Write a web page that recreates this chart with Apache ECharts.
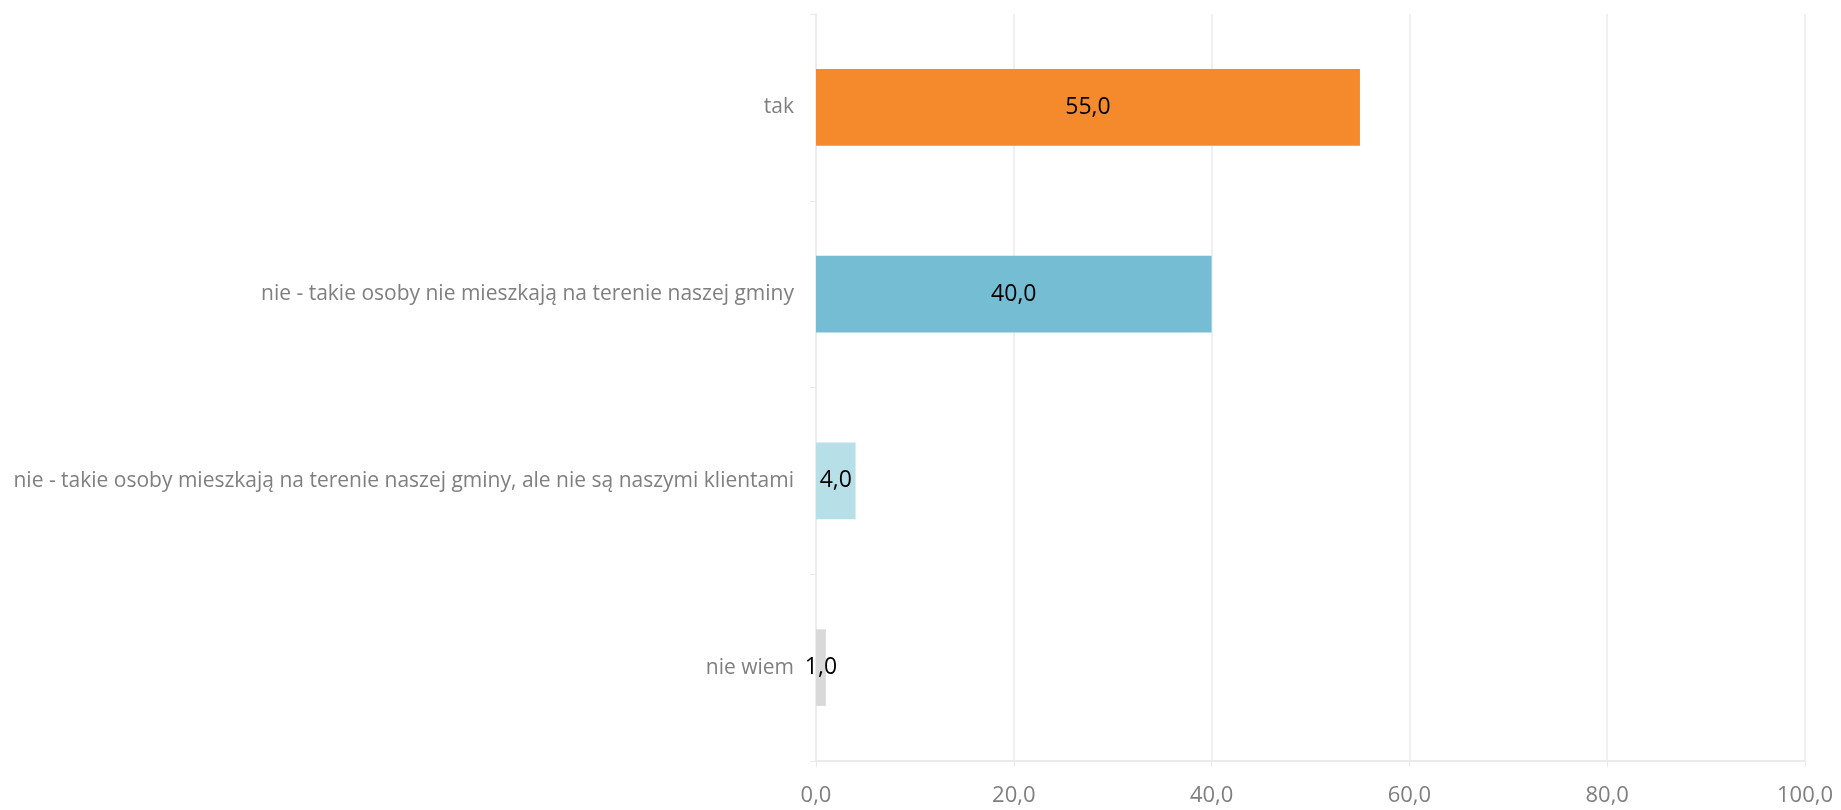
<!DOCTYPE html>
<html><head><meta charset="utf-8">
<script src="https://cdn.jsdelivr.net/npm/echarts@6/dist/echarts.min.js"></script>
<style>html,body{margin:0;padding:0;background:#fff}#c{width:1841px;height:810px}</style>
</head><body><div id="c"></div>
<script>
const categories = ['tak', 'nie - takie osoby nie mieszkają na terenie naszej gminy', 'nie - takie osoby mieszkają na terenie naszej gminy, ale nie są naszymi klientami', 'nie wiem'];
const values = [55.0, 40.0, 4.0, 1.0];
const colors = ['#F58A2C', '#74BDD3', '#B6DFE8', '#D9D9D9'];
const xTicks = [0, 20, 40, 60, 80, 100];

const chart = echarts.init(document.getElementById('c'));
const font = '"Open Sans", sans-serif';
chart.setOption({
  animation: false,
  grid: { left: 816, right: 36, top: 14, bottom: 49, containLabel: false },
  xAxis: {
    type: 'value', min: xTicks[0], max: xTicks[xTicks.length - 1], interval: 20,
    axisLine: { show: true, lineStyle: { color: '#EBEBEB', width: 2 } },
    axisTick: { show: true, length: 6, lineStyle: { color: '#EBEBEB' } },
    splitLine: { show: true, lineStyle: { color: '#EBEBEB', width: 1.5 } },
    axisLabel: { color: '#7F7F7F', fontSize: 22, fontFamily: font, margin: 24,
      formatter: v => v.toFixed(1).replace('.', ',') }
  },
  yAxis: {
    type: 'category', data: categories, inverse: true,
    axisLine: { show: true, lineStyle: { color: '#EBEBEB', width: 1.5 } },
    axisTick: { show: true, length: 6, lineStyle: { color: '#EBEBEB' } },
    axisLabel: { color: '#7F7F7F', fontSize: 21, fontFamily: font, margin: 22, padding: [6, 0, 0, 0] }
  },
  series: [{
    type: 'bar', barCategoryGap: '59%',
    data: values.map((v, i) => ({ value: v, itemStyle: { color: colors[i] } })),
    label: { show: true, position: 'inside', color: '#000', fontSize: 23, fontFamily: font, padding: [6, 0, 0, 0],
      formatter: p => p.value.toFixed(1).replace('.', ',') }
  }]
});
</script></body></html>
